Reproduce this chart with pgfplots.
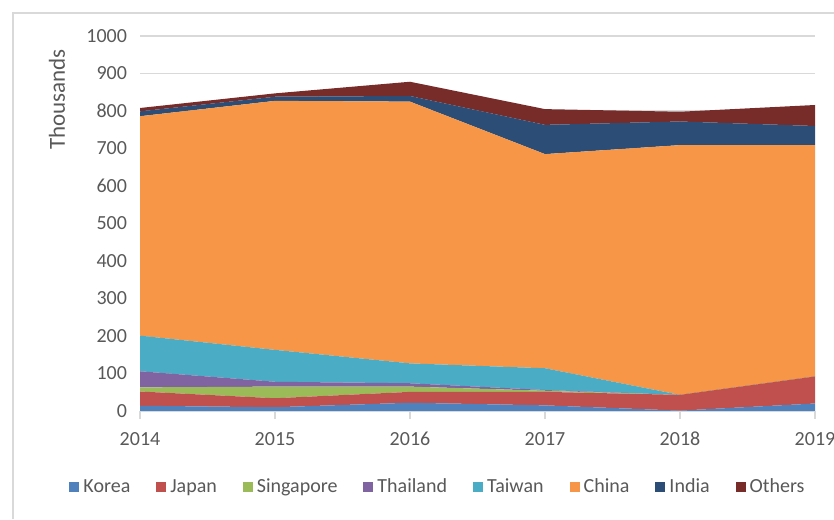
\documentclass[border=0pt]{standalone}
\usepackage{pgfplots}
\pgfplotsset{compat=1.18}
\usepackage{fontspec}
\setmainfont{Carlito}
\definecolor{cKorea}{HTML}{4F81BD}
\definecolor{cJapan}{HTML}{C0504D}
\definecolor{cSing}{HTML}{9BBB59}
\definecolor{cThai}{HTML}{8064A2}
\definecolor{cTaiwan}{HTML}{4BACC6}
\definecolor{cChina}{HTML}{F79646}
\definecolor{cIndia}{HTML}{2C4D75}
\definecolor{cOthers}{HTML}{772C2A}
\definecolor{txt}{HTML}{595959}
\definecolor{gridc}{HTML}{D9D9D9}
\begin{document}
\begin{tikzpicture}
\path[use as bounding box] (0pt,0pt) rectangle (417pt,259.5pt);
\draw[draw=gridc,line width=0.6pt] (6.5pt,0pt) -- (6.5pt,253pt) -- (417pt,253pt);
\begin{axis}[
  at={(70pt,54pt)}, anchor=origin,
  scale only axis, width=337.5pt, height=187.5pt,
  xmin=2014, xmax=2019, ymin=0, ymax=1000,
  stack plots=y,
  axis y line*=left, axis x line*=bottom,
  y axis line style={draw=none},
  x axis line style={draw=gridc, line width=0.8pt},
  xtick={2014,2015,2016,2017,2018,2019},
  xticklabel style={/pgf/number format/1000 sep={}, text=txt, font=\fontsize{10}{12}\selectfont, yshift=-3pt},
  ytick={0,100,...,1000},
  yticklabel style={/pgf/number format/1000 sep={}, text=txt, font=\fontsize{10}{12}\selectfont, xshift=-3pt},
  /pgf/number format/assume math mode=true,
  xtick style={draw=gridc, line width=0.6pt},
  ytick style={draw=none},
  xtick align=outside, major tick length=4pt,
  ymajorgrids, y grid style={draw=gridc, line width=0.6pt},
  ylabel={Thousands},
  ylabel style={text=txt, font=\fontsize{11.5}{13}\selectfont, at={(axis description cs:-0.123,0.984)}, anchor=east},
  legend style={at={(0.443,-0.203)}, anchor=center, draw=none, legend columns=-1, font=\fontsize{10}{12}\selectfont, text=txt, /tikz/every even column/.append style={column sep=11pt}},
  legend image code/.code={\fill[#1] (0pt,-2.5pt) rectangle (5pt,2.5pt);},
]
\addplot[fill=cKorea, draw=none] coordinates {(2014,14) (2015,10) (2016,22) (2017,15) (2018,1) (2019,20)} \closedcycle;
\addplot[fill=cJapan, draw=none] coordinates {(2014,38) (2015,24) (2016,29) (2017,36) (2018,42) (2019,72)} \closedcycle;
\addplot[fill=cSing, draw=none] coordinates {(2014,11) (2015,31) (2016,14) (2017,3) (2018,0) (2019,0)} \closedcycle;
\addplot[fill=cThai, draw=none] coordinates {(2014,43) (2015,13) (2016,9) (2017,2) (2018,0) (2019,0)} \closedcycle;
\addplot[fill=cTaiwan, draw=none] coordinates {(2014,95) (2015,85) (2016,53) (2017,58) (2018,0) (2019,0)} \closedcycle;
\addplot[fill=cChina, draw=none] coordinates {(2014,585) (2015,664) (2016,698) (2017,571) (2018,666) (2019,617)} \closedcycle;
\addplot[fill=cIndia, draw=none] coordinates {(2014,13) (2015,11) (2016,15) (2017,78) (2018,63) (2019,51)} \closedcycle;
\addplot[fill=cOthers, draw=none] coordinates {(2014,9) (2015,9) (2016,38) (2017,42) (2018,26) (2019,56)} \closedcycle;
\legend{Korea,Japan,Singapore,Thailand,Taiwan,China,India,Others}
\end{axis}
\end{tikzpicture}
\end{document}
